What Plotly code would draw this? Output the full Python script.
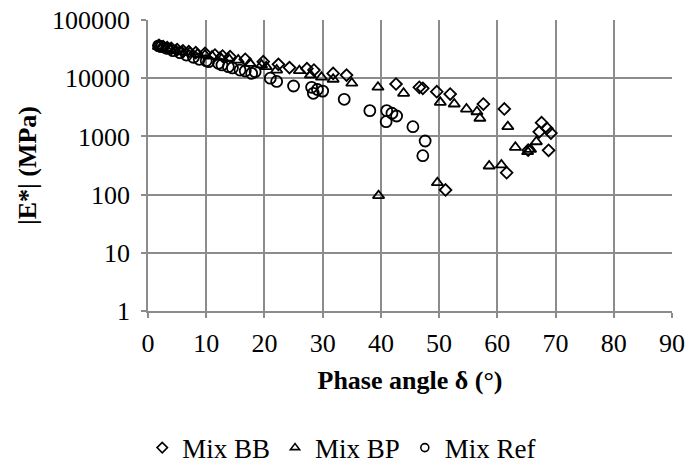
import plotly.graph_objects as go

# Mix BB (diamonds)
bb_phase = [1.9, 2.6, 3.3, 4.0, 5.0, 6.0, 7.0, 8.2, 9.8, 11.5, 12.8, 14.1, 16.7, 19.8, 22.4, 24.3,
            27.3, 28.5, 31.8, 34.1, 42.6, 46.6, 47.2, 49.6, 51.9, 57.6, 61.2, 67.6, 68.5, 69.2,
            67.2, 68.8, 65.3, 61.6, 51.1]
bb_mod = [36500, 35000, 33500, 32500, 31000, 29500, 28500, 27500, 26800, 25000, 24000, 23400, 21100,
          19200, 17300, 15200, 14600, 13800, 12100, 11300, 7950, 6970, 6700, 5860, 5350, 3600, 2960,
          1720, 1380, 1140, 1200, 577, 580, 238, 120]

# Mix BP (triangles)
bp_phase = [1.8, 2.4, 3.1, 3.9, 4.8, 5.8, 7.2, 8.5, 9.8, 11.0, 12.4, 13.8, 15.5, 17.5, 19.5, 20.3,
            22.1, 26.0, 27.9, 29.8, 31.8, 35.0, 39.5, 43.9, 50.2, 52.6, 54.7, 56.5, 57.0, 61.8,
            66.7, 65.7, 65.2, 63.1, 58.6, 60.7, 49.7, 39.6]
bp_mod = [35000, 33500, 32500, 31000, 29500, 28500, 28000, 26000, 25000, 24000, 23000, 22000, 20500,
          18000, 16900, 15800, 13800, 13500, 11350, 10400, 9600, 8200, 7000, 5500, 3850, 3600, 2950,
          2650, 2050, 1470, 810, 600, 546, 650, 310, 323, 160, 96]

# Mix Ref (circles)
ref_phase = [1.8, 2.3, 3.2, 4.3, 5.5, 6.6, 7.8, 8.8, 10.0, 10.4, 12.1, 12.7, 13.8, 14.5, 15.8, 16.7,
             17.8, 18.4, 21.0, 22.1, 25.0, 28.1, 28.4, 29.1, 30.0, 33.7, 38.1, 41.0, 41.9, 42.7,
             40.9, 45.5, 47.6, 47.2]
ref_mod = [36000, 34800, 32600, 29700, 27400, 25000, 22900, 21100, 20000, 19200, 18000, 16900, 15800,
           15000, 13800, 13300, 12100, 12900, 10000, 8800, 7350, 6970, 5500, 6400, 6000, 4340, 2770,
           2770, 2500, 2240, 1790, 1470, 834, 466]

series_names = ["Mix BB", "Mix BP", "Mix Ref"]
y_tickvals = [1, 10, 100, 1000, 10000, 100000]
y_ticktext = ["1", "10", "100", "1000", "10000", "100000"]
x_tickvals = [0, 10, 20, 30, 40, 50, 60, 70, 80, 90]

FONT = "Liberation Serif"
FS = 26
symbols = ["diamond-open", "triangle-up-open", "circle-open"]
sizes = [9, 10, 11]
legend_sizes = [8, 8, 8]
data = [(bb_phase, bb_mod), (bp_phase, bp_mod), (ref_phase, ref_mod)]

fig = go.Figure()
for (xs, ys), nm, sym, sz in zip(data, series_names, symbols, sizes):
    fig.add_trace(go.Scatter(x=xs, y=ys, mode="markers", name=nm, showlegend=False,
                             marker=dict(symbol=sym, size=sz, color="black",
                                         line=dict(width=1.8, color="black"))))
for nm, sym, sz in zip(series_names, symbols, legend_sizes):
    fig.add_trace(go.Scatter(x=[None], y=[None], mode="markers", name=nm, showlegend=True,
                             marker=dict(symbol=sym, size=sz, color="black",
                                         line=dict(width=1.6, color="black"))))

fig.update_layout(
    width=690, height=464,
    margin=dict(l=148, r=18, t=20, b=153, autoexpand=False),
    paper_bgcolor="white", plot_bgcolor="white",
    font=dict(family=FONT, size=FS, color="black"),
    showlegend=True,
    legend=dict(orientation="h", x=-0.011, xanchor="left", y=-0.471, yanchor="middle",
                font=dict(family=FONT, size=27, color="black"), itemwidth=30,
                tracegroupgap=0, bgcolor="rgba(0,0,0,0)"),
    xaxis=dict(range=[0, 90], tickvals=x_tickvals, showgrid=True, gridcolor="#8c8c8c", gridwidth=1.5,
               showline=True, linecolor="#8c8c8c", linewidth=1.5, ticks="outside", ticklen=5,
               tickcolor="#8c8c8c", tickwidth=1.5, zeroline=False, automargin=False,
               ticklabelstandoff=3, ticklabeloverflow="allow",
               tickfont=dict(family=FONT, size=FS, color="black"),
               title=dict(text="<b>Phase angle δ (°)</b>", font=dict(family=FONT, size=FS, color="black"),
                          standoff=14)),
    yaxis=dict(type="log", range=[0, 5], tickvals=y_tickvals, ticktext=y_ticktext, showgrid=True,
               gridcolor="#8c8c8c", gridwidth=1.5, showline=True, linecolor="#8c8c8c", linewidth=1.5,
               ticks="outside", ticklen=5, tickcolor="#8c8c8c", tickwidth=1.5, zeroline=False,
               automargin=False, ticklabelstandoff=6, ticklabeloverflow="allow",
               tickfont=dict(family=FONT, size=FS, color="black"),
               title=dict(text="<b>|E*| (MPa)</b>", font=dict(family=FONT, size=FS, color="black"),
                          standoff=8)),
)

fig.write_html("out.html", config={"displayModeBar": False},
               post_script="document.body.style.margin='0';document.body.style.overflow='hidden';")
